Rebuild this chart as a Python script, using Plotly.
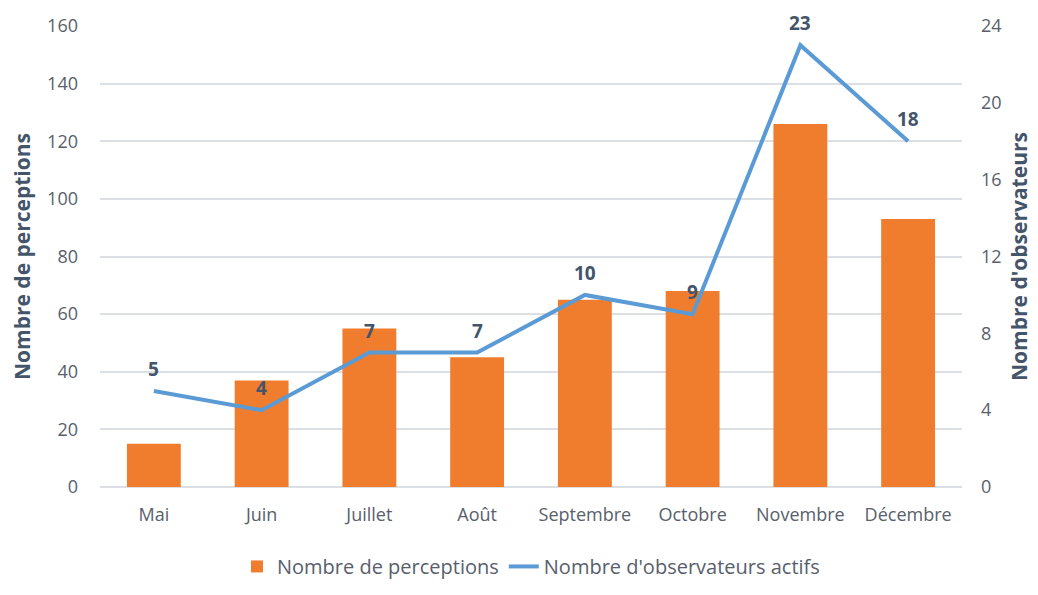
import plotly.graph_objects as go

months = ["Mai", "Juin", "Juillet", "Août", "Septembre", "Octobre", "Novembre", "Décembre"]
perceptions = [15, 37, 55, 45, 65, 68, 126, 93]
observateurs = [5, 4, 7, 7, 10, 9, 23, 18]

font_family = "Open Sans, Noto Sans, sans-serif"
tick_color = "#58606B"
title_color = "#44546A"
grid_color = "#DCE0E5"

fig = go.Figure()
fig.add_trace(go.Bar(
    x=months, y=perceptions, name="Nombre de perceptions",
    marker=dict(color="#EF7D2D", line=dict(width=0)),
    width=0.5, yaxis="y",
))
fig.add_trace(go.Scatter(
    x=months, y=observateurs, name="Nombre d'observateurs actifs",
    mode="lines", line=dict(color="#5B9BD5", width=4),
    yaxis="y2",
))
for m, v in zip(months, observateurs):
    fig.add_annotation(x=m, y=v, xref="x", yref="y2", text=f"<b>{v}</b>",
                       showarrow=False, yshift=22, borderpad=0,
                       font=dict(size=19, color=title_color, family=font_family))

fig.update_layout(
    width=1038, height=595,
    margin=dict(l=92, r=84, t=18, b=116, autoexpand=False),
    paper_bgcolor="white", plot_bgcolor="white",
    font=dict(family=font_family, color=tick_color, size=18),
    xaxis=dict(showgrid=False, tickfont=dict(size=18, color=tick_color),
               ticks="", showline=False, automargin=False, ticklabelstandoff=15),
    yaxis=dict(range=[0, 160], dtick=20, showgrid=True, gridcolor=grid_color,
               gridwidth=1.5, zeroline=True, zerolinecolor=grid_color, zerolinewidth=1.5,
               tickfont=dict(size=18, color=tick_color), ticks="", automargin=False,
               ticklabelstandoff=21,
               title=dict(text="<b>Nombre de perceptions</b>", standoff=14,
                          font=dict(size=21, color=title_color))),
    yaxis2=dict(range=[0, 24], dtick=4, overlaying="y", side="right",
                showgrid=False, zeroline=False, automargin=False,
                tickfont=dict(size=18, color=tick_color), ticks="",
                ticklabelstandoff=18,
                title=dict(text="<b>Nombre d'observateurs</b>", standoff=11,
                           font=dict(size=21, color=title_color))),
    legend=dict(orientation="h", x=0.5, xanchor="center", y=-0.13, yanchor="top",
                font=dict(size=20, color=tick_color), traceorder="normal"),
    showlegend=True,
)

fig.write_html("out.html")
